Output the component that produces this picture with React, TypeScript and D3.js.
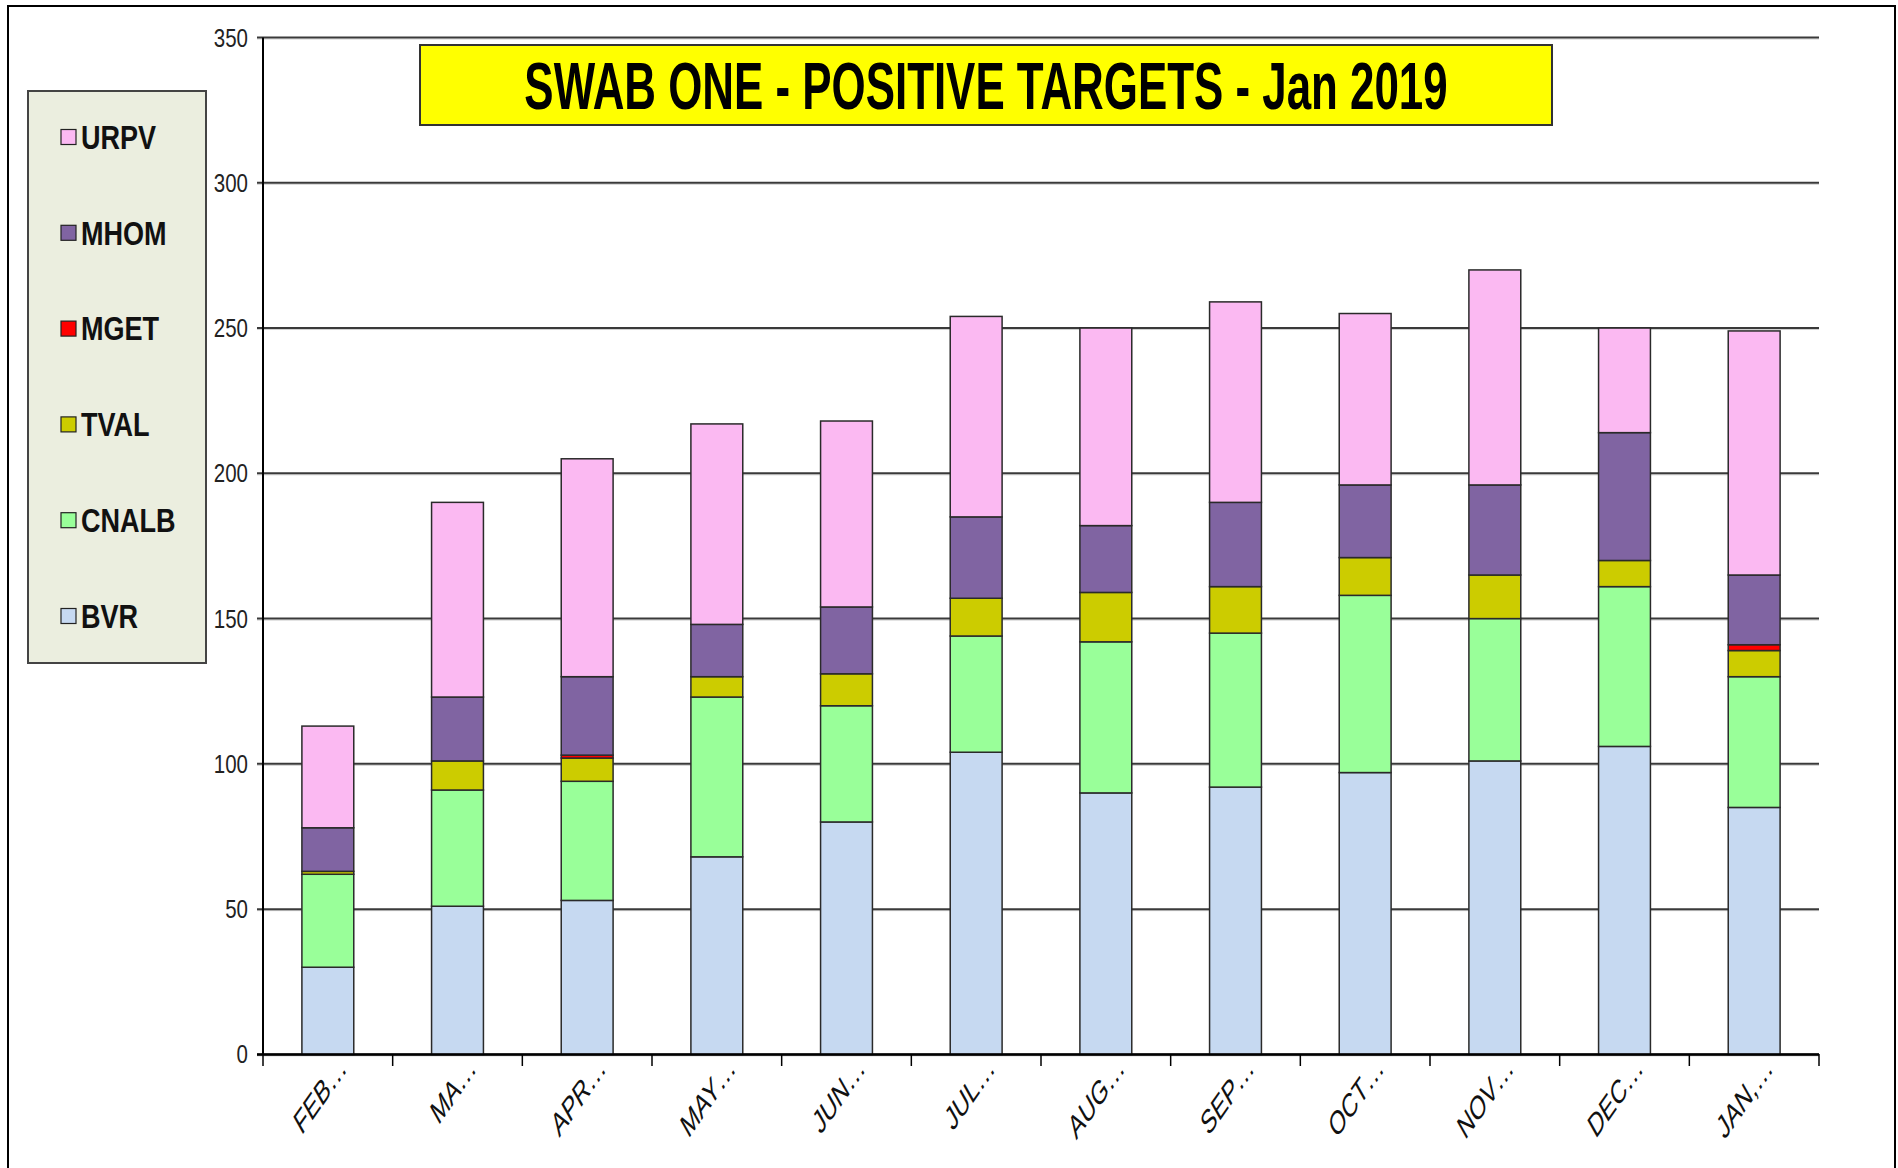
import * as d3 from "d3";

const months = ["FEB…", "MA…", "APR…", "MAY…", "JUN…", "JUL…", "AUG…", "SEP…", "OCT…", "NOV…", "DEC…", "JAN,…"];
const BVR = [30, 51, 53, 68, 80, 104, 90, 92, 97, 101, 106, 85];
const CNALB = [32, 40, 41, 55, 40, 40, 52, 53, 61, 49, 55, 45];
const TVAL = [1, 10, 8, 7, 11, 13, 17, 16, 13, 15, 9, 9];
const MGET = [0, 0, 1, 0, 0, 0, 0, 0, 0, 0, 0, 2];
const MHOM = [15, 22, 27, 18, 23, 28, 23, 29, 25, 31, 44, 24];
const URPV = [35, 67, 75, 69, 64, 69, 68, 69, 59, 74, 36, 84];
const yTicks = [0, 50, 100, 150, 200, 250, 300, 350];
const title = "SWAB ONE - POSITIVE TARGETS - Jan 2019";

const keys = ["BVR", "CNALB", "TVAL", "MGET", "MHOM", "URPV"];
const colors: Record<string, string> = {
  BVR: "#c6d9f1",
  CNALB: "#99ff99",
  TVAL: "#cccc00",
  MGET: "#ff0000",
  MHOM: "#8064a2",
  URPV: "#fbb9f2",
};

const W = 1898;
const H = 1168;
const FONT = "'Liberation Sans', Arial, sans-serif";
const SX = 0.82; // the original is squeezed horizontally

export default function App() {
  const rows = months.map((m, i) => ({
    month: m,
    BVR: BVR[i],
    CNALB: CNALB[i],
    TVAL: TVAL[i],
    MGET: MGET[i],
    MHOM: MHOM[i],
    URPV: URPV[i],
  }));
  const series = d3.stack<any>().keys(keys)(rows);

  const x = d3.scaleBand().domain(months).range([263, 1819]).paddingInner(0.6).paddingOuter(0.3);
  const y = d3.scaleLinear().domain([0, 350]).range([1054.4, 37.5]);
  const step = x.step();
  const boundaries = d3.range(months.length + 1).map((i) => 263 + i * step);

  const legendOrder = [...keys].reverse();

  return (
    <div style={{ position: "absolute", left: 0, top: 0 }}>
      <svg width={W} height={H} style={{ display: "block", background: "#fff" }}>
        <rect x={8} y={6} width={1887} height={1180} fill="#fff" stroke="#000" strokeWidth={2} />

        {/* gridlines */}
        {yTicks.map((t) => (
          <g key={t}>
            <line x1={257} x2={1819} y1={y(t) + 1.5} y2={y(t) + 1.5} stroke="#cfcfcf" strokeWidth={1} />
            <line x1={257} x2={1819} y1={y(t)} y2={y(t)} stroke="#3a3a3a" strokeWidth={2} />
            <text
              transform={`translate(248,${y(t)}) scale(${SX},1)`}
              textAnchor="end"
              dy="0.36em"
              fontFamily={FONT}
              fontSize={25}
              fill="#222"
            >
              {t}
            </text>
          </g>
        ))}

        {/* bars */}
        {series.map((s) => (
          <g key={s.key}>
            {s.map((d, i) => (
              <rect
                key={i}
                x={x(months[i])}
                width={x.bandwidth()}
                y={y(d[1])}
                height={y(d[0]) - y(d[1])}
                fill={colors[s.key]}
                stroke="#2a2a2a"
                strokeWidth={1.5}
              />
            ))}
          </g>
        ))}

        {/* axes */}
        <line x1={263} x2={263} y1={37.5} y2={1055} stroke="#000" strokeWidth={2} />
        <line x1={257} x2={1819} y1={1054.4} y2={1054.4} stroke="#000" strokeWidth={2.5} />
        {boundaries.map((bx, i) => (
          <line key={i} x1={bx} x2={bx} y1={1054} y2={1066} stroke="#000" strokeWidth={1.5} />
        ))}
        {months.map((m) => (
          <text
            key={m}
            transform={`translate(${(x(m) as number) + x.bandwidth() / 2 + 20},${1070}) scale(0.78,1) rotate(-48) skewX(-12)`}
            textAnchor="end"
            fontFamily={FONT}
            fontSize={30}
            fill="#111"
          >
            {m}
          </text>
        ))}

        {/* title */}
        <rect x={420} y={45} width={1132} height={80} fill="#ffff00" stroke="#333" strokeWidth={2} />
        <text
          transform="translate(986,109) scale(0.665,1)"
          textAnchor="middle"
          fontFamily={FONT}
          fontWeight="bold"
          fontSize={66}
          fill="#000"
        >
          {title}
        </text>

        {/* legend */}
        <rect x={28} y={91} width={178} height={572} fill="#ebeedf" stroke="#444" strokeWidth={2} />
        {legendOrder.map((k, i) => {
          const cy = 137 + i * 95.8;
          return (
            <g key={k}>
              <rect x={61} y={cy - 7.5} width={15} height={15} fill={colors[k]} stroke="#222" strokeWidth={1.2} />
              <text
                transform={`translate(81,${cy}) scale(${SX},1)`}
                dy="0.36em"
                fontFamily={FONT}
                fontWeight="bold"
                fontSize={33}
                fill="#111"
              >
                {k}
              </text>
            </g>
          );
        })}
      </svg>
    </div>
  );
}
